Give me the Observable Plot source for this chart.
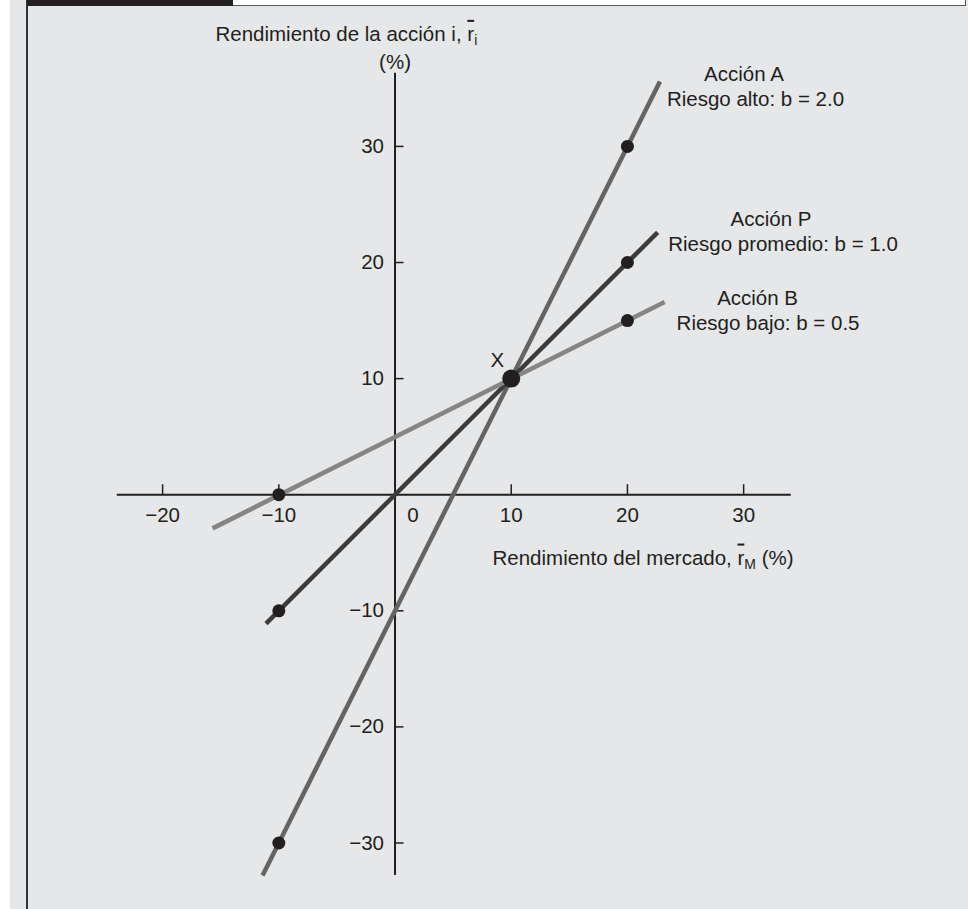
<!DOCTYPE html>
<html>
<head>
<meta charset="utf-8">
<script src="https://cdn.jsdelivr.net/npm/d3@7"></script>
<script src="https://cdn.jsdelivr.net/npm/@observablehq/plot@0.6"></script>
<style>
  html, body { margin: 0; padding: 0; background: #ffffff; }
  #page { position: relative; width: 968px; height: 909px; overflow: hidden; background: #ffffff; }
  #panel { position: absolute; left: 10px; top: 0; width: 958px; height: 909px; background: #e6e7e8; }
  #leftline { position: absolute; left: 26px; top: 0; width: 2px; height: 909px; background: #333333; }
  #tab { position: absolute; left: 27px; top: 0; width: 206px; height: 6px; background: #231f20; }
  #topbox { position: absolute; left: 233px; top: 0; width: 732px; height: 5px; background: #ffffff;
            border-bottom: 1.5px solid #555555; border-right: 1.5px solid #555555; }
  #chart { position: absolute; left: 0; top: 0; }
</style>
</head>
<body>
<div id="page">
  <div id="panel"></div>
  <div id="leftline"></div>
  <div id="tab"></div>
  <div id="topbox"></div>
  <div id="chart"></div>
</div>
<script>
// ---- data ----
const stocks = ["Acción A", "Acción P", "Acción B"];
const risks = ["Riesgo alto: b = 2.0", "Riesgo promedio: b = 1.0", "Riesgo bajo: b = 0.5"];
const betas = [2.0, 1.0, 0.5];
const lineStartX = [-11.4, -11.1, -15.7];
const lineStartY = [-32.8, -11.1, -2.9];
const lineEndX = [22.8, 22.6, 23.2];
const lineEndY = [35.6, 22.6, 16.6];
const pointStock = [0, 0, 1, 1, 2, 2];
const pointX = [-10, 20, -10, 20, -10, 20];
const pointY = [-30, 30, -10, 20, 0, 15];
const intersectX = [10];
const intersectY = [10];
const intersectLabel = ["X"];
const xTickValues = [-20, -10, 0, 10, 20, 30];
const yTickValues = [-30, -20, -10, 10, 20, 30];
const yTitle = "Rendimiento de la acción i, r";
const yTitleSub = "i";
const yUnit = "(%)";
const xTitle = "Rendimiento del mercado, r";
const xTitleSub = "M";
const xTitleTail = " (%)";
const axisXRange = [-23.9, 34.1];
const axisYRange = [-32.8, 36.3];

// ---- styles ----
const lineColors = ["#646464", "#3c3c3c", "#858585"];
const ink = "#231f20";
const fs = 20.5;
const W = 968, H = 909;
const xDomain = [-33.95, 49.35];
const yDomain = [-35.73, 42.57];
const kx = W / (xDomain[1] - xDomain[0]);
const ky = H / (yDomain[1] - yDomain[0]);

const idx = d3.range(stocks.length);
const pidx = d3.range(pointX.length);
const fmt = d => d3.format("")(d).replace("-", "\u2212");

const svg = Plot.plot({
  width: W, height: H, margin: 0,
  x: {domain: xDomain, axis: null},
  y: {domain: yDomain, axis: null},
  style: {background: "transparent", fontFamily: "'Liberation Sans', Arial, Helvetica, sans-serif", color: ink},
  marks: [
    // axes
    Plot.ruleY([0], {x1: axisXRange[0], x2: axisXRange[1], stroke: ink, strokeWidth: 2}),
    Plot.ruleX([0], {y1: axisYRange[0], y2: axisYRange[1], stroke: ink, strokeWidth: 2}),
    // ticks
    Plot.ruleX(xTickValues.filter(d => d !== 0), {x: d => d, y1: 0, y2: 10 / ky, stroke: ink, strokeWidth: 1.5}),
    Plot.ruleY(yTickValues, {y: d => d, x1: 0, x2: 9 / kx, stroke: ink, strokeWidth: 1.5}),
    // tick labels
    Plot.text(xTickValues.filter(d => d !== 0), {x: d => d, y: 0, dy: 21, text: fmt, fontSize: fs, fill: ink}),
    Plot.text(xTickValues.filter(d => d === 0), {x: d => d, y: 0, dy: 21, dx: 18, text: fmt, fontSize: fs, fill: ink}),
    Plot.text(yTickValues, {x: 0, y: d => d, dx: -11, textAnchor: "end", text: fmt, fontSize: fs, fill: ink}),
    // lines
    Plot.link(idx, {x1: i => lineStartX[i], y1: i => lineStartY[i], x2: i => lineEndX[i], y2: i => lineEndY[i],
      stroke: i => lineColors[i], strokeWidth: 4.5}),
    // points
    Plot.dot(pidx, {x: i => pointX[i], y: i => pointY[i], r: 6.5, fill: ink, stroke: "none"}),
    Plot.dot(intersectX.map((d, i) => i), {x: i => intersectX[i], y: i => intersectY[i], r: 9, fill: ink, stroke: "none"}),
    Plot.text(intersectX.map((d, i) => i), {x: i => intersectX[i], y: i => intersectY[i], dx: -14, dy: -18, text: i => intersectLabel[i], fontSize: fs, fill: ink}),
    // line labels
    Plot.text([0], {x: 30.03, y: 36.19, text: i => stocks[i], fontSize: fs, fill: ink}),
    Plot.text([0], {x: 31.02, y: 34.03, text: i => risks[i], fontSize: fs, fill: ink}),
    Plot.text([1], {x: 32.36, y: 23.73, text: i => stocks[i], fontSize: fs, fill: ink}),
    Plot.text([1], {x: 33.39, y: 21.58, text: i => risks[i], fontSize: fs, fill: ink}),
    Plot.text([2], {x: 31.20, y: 16.90, text: i => stocks[i], fontSize: fs, fill: ink}),
    Plot.text([2], {x: 32.10, y: 14.75, text: i => risks[i], fontSize: fs, fill: ink}),
    // axis titles
    Plot.text([yTitle], {x: -15.45, y: 39.66, textAnchor: "start", text: d => d, fontSize: fs, fill: ink}),
    Plot.text([yUnit], {x: 0, y: 37.24, text: d => d, fontSize: fs, fill: ink}),
    Plot.text([xTitle], {x: 8.39, y: -5.45, textAnchor: "start", text: d => d, fontSize: fs, fill: ink})
  ]
});

// rich text: overline on r, subscript
const NS = "http://www.w3.org/2000/svg";
function richify(t, main, sub, tail) {
  const base = main.slice(0, -1);
  const r = main.slice(-1);
  t.textContent = "";
  t.appendChild(document.createTextNode(base));
  const o = document.createElementNS(NS, "tspan");
  o.setAttribute("fill", ink);
  o.style.textDecoration = "overline";
  o.textContent = r;
  t.appendChild(o);
  const s = document.createElementNS(NS, "tspan");
  s.setAttribute("dy", "0.3em");
  s.setAttribute("fill", ink);
  s.setAttribute("font-size", "0.68em");
  s.textContent = sub;
  t.appendChild(s);
  if (tail) {
    const tl = document.createElementNS(NS, "tspan");
    tl.setAttribute("dy", "-0.2em");
    tl.setAttribute("fill", ink);
    tl.textContent = tail;
    t.appendChild(tl);
  }
}
svg.querySelectorAll("text").forEach(t => {
  if (t.textContent === yTitle) richify(t, yTitle, yTitleSub, "");
  else if (t.textContent === xTitle) richify(t, xTitle, xTitleSub, xTitleTail);
});

document.getElementById("chart").appendChild(svg);
</script>
</body>
</html>
